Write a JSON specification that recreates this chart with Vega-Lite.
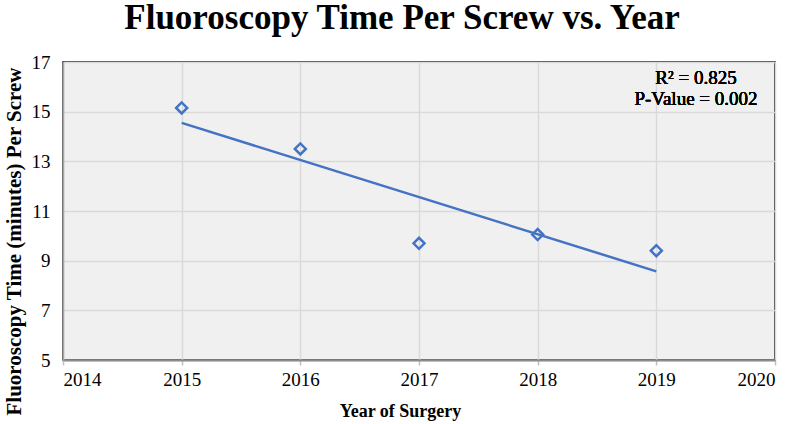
{
  "$schema": "https://vega.github.io/schema/vega-lite/v6.json",
  "autosize": {"type": "none"},
  "width": 712,
  "height": 298,
  "padding": {"left": 63, "top": 62, "right": 22, "bottom": 64},
  "background": "white",
  "config": {
    "font": "Liberation Serif",
    "view": {"fill": "#f0f0f0", "stroke": "#000000", "strokeWidth": 1.5}
  },
  "title": {
    "text": "Fluoroscopy Time Per Screw vs. Year",
    "font": "Liberation Serif",
    "fontSize": 35,
    "fontWeight": "bold",
    "color": "#000000",
    "anchor": "middle",
    "baseline": "alphabetic",
    "dx": -17,
    "offset": -11
  },
  "data": {
    "values": [
      {"year": 2015, "time": 15.15},
      {"year": 2016, "time": 13.5},
      {"year": 2017, "time": 9.7},
      {"year": 2018, "time": 10.05},
      {"year": 2019, "time": 9.4}
    ]
  },
  "layer": [
    {
      "mark": {"type": "line", "color": "#4472C4", "strokeWidth": 2.5},
      "transform": [
        {"regression": "time", "on": "year", "method": "linear", "extent": [2015, 2019]}
      ],
      "encoding": {
        "x": {
          "field": "year",
          "type": "quantitative",
          "scale": {"domain": [2014, 2020], "nice": false, "zero": false},
          "axis": {
            "values": [2014, 2015, 2016, 2017, 2018, 2019, 2020],
            "format": "d",
            "title": "Year of Surgery",
            "titleFont": "Liberation Serif",
            "titleFontSize": 18,
            "titleFontWeight": "bold",
            "titleColor": "#000000",
            "titleX": 337,
            "titleY": 56,
            "titleBaseline": "alphabetic",
            "labelFont": "Liberation Serif",
            "labelFontSize": 19,
            "labelColor": "#000000",
            "labelPadding": 5,
            "tickSize": 5,
            "tickColor": "#bfbfbf",
            "tickWidth": 1.5,
            "domainColor": "#8c8c8c",
            "domainWidth": 2,
            "grid": true,
            "gridColor": "#d9d9d9",
            "gridWidth": 1.5
          }
        },
        "y": {
          "field": "time",
          "type": "quantitative",
          "scale": {"domain": [5, 17], "nice": false, "zero": false},
          "axis": {
            "values": [5, 7, 9, 11, 13, 15, 17],
            "title": "Fluoroscopy Time (minutes) Per Screw",
            "titleFont": "Liberation Serif",
            "titleFontSize": 21,
            "titleFontWeight": "bold",
            "titleColor": "#000000",
            "titleX": -49,
            "titleY": 179,
            "titleAngle": -90,
            "titleBaseline": "middle",
            "titleAlign": "center",
            "labelFont": "Liberation Serif",
            "labelFontSize": 19,
            "labelColor": "#000000",
            "labelPadding": 13,
            "tickSize": 0,
            "domainColor": "#a6a6a6",
            "domainWidth": 1.5,
            "grid": true,
            "gridColor": "#d9d9d9",
            "gridWidth": 1.5
          }
        }
      }
    },
    {
      "mark": {"type": "point", "shape": "diamond", "filled": false, "color": "#4472C4", "strokeWidth": 2.5, "size": 121, "opacity": 1},
      "encoding": {
        "x": {"field": "year", "type": "quantitative"},
        "y": {"field": "time", "type": "quantitative"}
      }
    },
    {
      "mark": {"type": "text", "align": "center", "baseline": "middle", "font": "Liberation Serif", "fontSize": 19, "color": "#000000", "text": "R² = 0.825"},
      "encoding": {
        "x": {"datum": 2019.334, "type": "quantitative"},
        "y": {"datum": 16.36, "type": "quantitative"}
      }
    },
    {
      "mark": {"type": "text", "align": "center", "baseline": "middle", "font": "Liberation Serif", "fontSize": 19, "color": "#000000", "text": "P-Value = 0.002"},
      "encoding": {
        "x": {"datum": 2019.334, "type": "quantitative"},
        "y": {"datum": 15.51, "type": "quantitative"}
      }
    }
  ]
}
